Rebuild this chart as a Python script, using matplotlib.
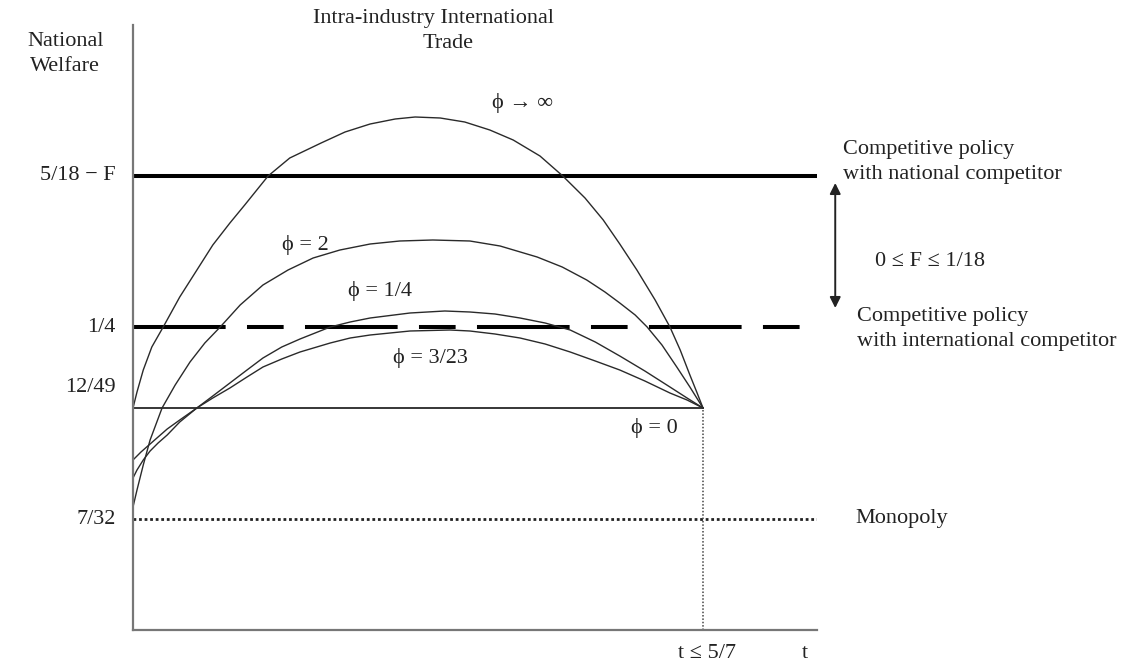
import matplotlib
matplotlib.use('Agg')
import matplotlib.pyplot as plt

# Niveles de bienestar (unidades del esquema)
lvl_national = 4.54   # 5/18 - F
lvl_intl = 3.03       # 1/4
lvl_trade0 = 2.22     # 12/49
lvl_monopoly = 1.11   # 7/32
t_max = 1.0           # t <= 5/7
x_end = 1.2
y_top = 6.05

ylabels = ['5/18 − F', '1/4', '12/49', '7/32']
ylabel_pos = [4.54, 3.03, 2.42, 1.11]

# Curvas de bienestar con comercio intra-industria
t_inf = [0, 0.007, 0.018, 0.033, 0.053, 0.082, 0.111, 0.140, 0.170, 0.196, 0.237,
         0.275, 0.330, 0.372, 0.416, 0.460, 0.495, 0.539, 0.582, 0.626, 0.667,
         0.714, 0.754, 0.793, 0.825, 0.854, 0.884, 0.916, 0.942, 0.960, 0.977,
         0.989, 1.0]
w_inf = [2.22, 2.38, 2.60, 2.83, 3.03, 3.33, 3.59, 3.85, 4.07, 4.25, 4.54,
         4.72, 4.87, 4.98, 5.06, 5.11, 5.13, 5.12, 5.08, 5.00, 4.90,
         4.74, 4.54, 4.32, 4.10, 3.86, 3.60, 3.30, 3.03, 2.80, 2.55,
         2.38, 2.22]

t_phi2 = [0, 0.007, 0.018, 0.030, 0.051, 0.074, 0.100, 0.126, 0.153, 0.188, 0.228,
          0.272, 0.316, 0.363, 0.416, 0.468, 0.526, 0.591, 0.644, 0.709, 0.753,
          0.796, 0.828, 0.854, 0.881, 0.902, 0.928, 0.954, 0.977, 1.0]
w_phi2 = [1.23, 1.40, 1.65, 1.90, 2.22, 2.45, 2.68, 2.87, 3.03, 3.25, 3.45,
          3.60, 3.72, 3.80, 3.86, 3.89, 3.90, 3.89, 3.84, 3.73, 3.63,
          3.50, 3.38, 3.27, 3.15, 3.03, 2.85, 2.63, 2.43, 2.22]

t_phi14 = [0, 0.007, 0.018, 0.030, 0.044, 0.060, 0.082, 0.112, 0.140, 0.170, 0.200,
           0.228, 0.261, 0.293, 0.346, 0.381, 0.416, 0.486, 0.547, 0.591, 0.635,
           0.679, 0.723, 0.767, 0.811, 0.854, 0.898, 0.942, 0.972, 1.0]
w_phi14 = [1.52, 1.60, 1.70, 1.79, 1.87, 1.95, 2.08, 2.22, 2.34, 2.47, 2.60,
           2.72, 2.83, 2.91, 3.03, 3.08, 3.12, 3.17, 3.19, 3.18, 3.16,
           3.12, 3.07, 3.00, 2.88, 2.74, 2.59, 2.43, 2.32, 2.22]

t_phi323 = [0, 0.014, 0.030, 0.044, 0.060, 0.082, 0.112, 0.140, 0.170, 0.200, 0.228,
            0.261, 0.293, 0.346, 0.381, 0.416, 0.486, 0.556, 0.591, 0.635, 0.679,
            0.723, 0.767, 0.811, 0.854, 0.898, 0.942, 0.972, 1.0]
w_phi323 = [1.70, 1.78, 1.86, 1.93, 2.01, 2.10, 2.22, 2.32, 2.42, 2.53, 2.63,
            2.71, 2.78, 2.87, 2.92, 2.95, 2.99, 3.00, 2.99, 2.96, 2.92,
            2.86, 2.78, 2.69, 2.60, 2.49, 2.37, 2.30, 2.22]

plt.rcParams['font.family'] = ['Liberation Serif', 'DejaVu Serif', 'DejaVu Sans']

fig = plt.figure(figsize=(11.3, 6.7), dpi=100)
ax = fig.add_axes([133 / 1130, 40 / 670, 684 / 1130, 605 / 670])
ax.set_xlim(0, x_end)
ax.set_ylim(0, y_top)
for s in ['top', 'right']:
    ax.spines[s].set_visible(False)
for s in ['left', 'bottom']:
    ax.spines[s].set_color('#777777')
    ax.spines[s].set_linewidth(1.6)
ax.set_xticks([])
ax.set_yticks([])

# Líneas horizontales
ax.plot([0, x_end], [lvl_national] * 2, color='black', lw=2.9, solid_capstyle='butt')
ax.plot([0, x_end], [lvl_intl] * 2, color='black', lw=2.9,
        linestyle=(0, (23, 5.3, 9.1, 5.3)))
ax.plot([0, t_max], [lvl_trade0] * 2, color='black', lw=1.1)
ax.plot([0, x_end], [lvl_monopoly] * 2, color='#222222', lw=2.0,
        linestyle=(0, (1, 1)))
ax.plot([t_max, t_max], [0, lvl_trade0], color='#444444', lw=1.1,
        linestyle=(0, (1, 1.2)))

# Curvas
for tt, ww in [(t_inf, w_inf), (t_phi2, w_phi2), (t_phi14, w_phi14), (t_phi323, w_phi323)]:
    ax.plot(tt, ww, color='#2a2a2a', lw=1.0)

tk = dict(fontsize=16, clip_on=False, color='#222222')

# Etiquetas eje Y
for lab, yy in zip(ylabels, ylabel_pos):
    ax.text(-0.03, yy, lab, ha='right', va='center', **tk)

ax.text(-0.119, 5.76, 'National\nWelfare', ha='center', va='center',
        linespacing=1.45, **tk)
ax.text(0.528, 6.12, 'Intra-industry International', ha='center', va='center', **tk)
ax.text(0.553, 5.86, 'Trade', ha='center', va='center', **tk)

ax.text(0.684, 5.27, 'ϕ → ∞', ha='center', va='center', **tk)
ax.text(0.302, 3.85, 'ϕ = 2', ha='center', va='center', **tk)
ax.text(0.433, 3.39, 'ϕ = 1/4', ha='center', va='center', **tk)
ax.text(0.521, 2.72, 'ϕ = 3/23', ha='center', va='center', **tk)
ax.text(0.914, 2.02, 'ϕ = 0', ha='center', va='center', **tk)

ax.text(1.007, -0.23, 't ≤ 5/7', ha='center', va='center', **tk)
ax.text(1.179, -0.23, 't', ha='center', va='center', **tk)

ax.text(1.246, 4.68, 'Competitive policy\nwith national competitor', ha='left',
        va='center', linespacing=1.45, **tk)
ax.text(1.302, 3.68, '0 ≤ F ≤ 1/18', ha='left', va='center', **tk)
ax.text(1.270, 3.01, 'Competitive policy\nwith international competitor', ha='left',
        va='center', linespacing=1.45, **tk)
ax.text(1.267, lvl_monopoly, 'Monopoly', ha='left', va='center', **tk)

ax.annotate('', xy=(1.232, 3.22), xytext=(1.232, 4.47),
            arrowprops=dict(arrowstyle='<|-|>', color='#222222', lw=1.4,
                            mutation_scale=16, shrinkA=0, shrinkB=0),
            annotation_clip=False)

fig.savefig('out.png', dpi=100)
